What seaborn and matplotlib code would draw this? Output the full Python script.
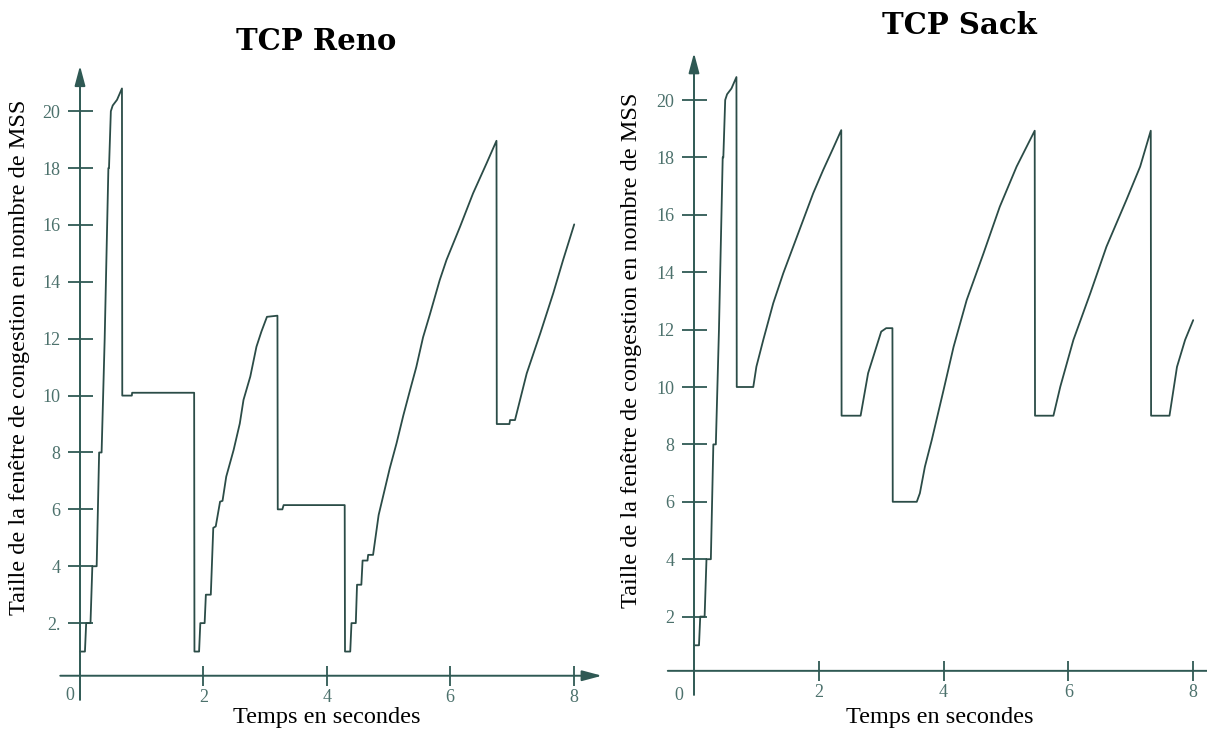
import numpy as np
import pandas as pd
import matplotlib
matplotlib.use("Agg")
import matplotlib.pyplot as plt
import matplotlib.transforms as mtransforms
import seaborn as sns

# --- congestion window traces (time in s, window in MSS) ---
reno_t = [0.00, 0.08, 0.10, 0.17, 0.20, 0.27, 0.31, 0.35, 0.40, 0.44, 0.46, 0.47,
          0.50, 0.53, 0.60, 0.68, 0.685, 0.84, 0.845, 1.85, 1.855, 1.93, 1.95, 2.02,
          2.04, 2.12, 2.16, 2.20, 2.27, 2.31, 2.37, 2.49, 2.59, 2.65, 2.76, 2.86,
          2.94, 3.03, 3.20, 3.205, 3.28, 3.30, 4.29, 4.295, 4.38, 4.40, 4.47, 4.49,
          4.56, 4.58, 4.66, 4.67, 4.75, 4.84, 4.93, 5.02, 5.13, 5.24, 5.35, 5.45,
          5.56, 5.67, 5.83, 5.94, 6.16, 6.37, 6.59, 6.75, 6.755, 6.96, 6.97, 7.05,
          7.24, 7.46, 7.67, 7.83, 8.01]
reno_w = [1.0, 1.0, 2.0, 2.0, 4.0, 4.0, 8.0, 8.0, 12.0, 16.0, 18.0, 18.0,
          20.0, 20.2, 20.4, 20.8, 10.0, 10.0, 10.1, 10.1, 1.0, 1.0, 2.0, 2.0,
          3.0, 3.0, 5.35, 5.4, 6.27, 6.3, 7.15, 8.09, 9.02, 9.85, 10.67, 11.72,
          12.25, 12.77, 12.81, 6.0, 6.0, 6.15, 6.15, 1.0, 1.0, 2.0, 2.0, 3.35,
          3.35, 4.2, 4.2, 4.4, 4.4, 5.8, 6.62, 7.44, 8.32, 9.3, 10.2, 11.0,
          12.05, 12.85, 14.06, 14.77, 15.94, 17.11, 18.17, 18.96, 9.0, 9.0, 9.14, 9.14,
          10.78, 12.19, 13.6, 14.77, 16.02]

sack_t = [0.00, 0.08, 0.10, 0.17, 0.20, 0.27, 0.31, 0.35, 0.40, 0.44, 0.46, 0.47,
          0.50, 0.53, 0.60, 0.68, 0.685, 0.95, 1.00, 1.11, 1.27, 1.43, 1.59, 1.75,
          1.91, 2.07, 2.23, 2.36, 2.365, 2.67, 2.79, 3.00, 3.08, 3.18, 3.185, 3.57,
          3.62, 3.70, 3.81, 4.00, 4.16, 4.37, 4.64, 4.90, 5.17, 5.46, 5.465, 5.76,
          5.87, 6.08, 6.35, 6.61, 6.93, 7.15, 7.32, 7.325, 7.62, 7.74, 7.87, 8.00]
sack_w = [1.0, 1.0, 2.0, 2.0, 4.0, 4.0, 8.0, 8.0, 12.0, 16.0, 18.0, 18.0,
          20.0, 20.2, 20.4, 20.8, 10.0, 10.0, 10.71, 11.64, 12.92, 13.96, 14.89, 15.82,
          16.75, 17.56, 18.32, 18.95, 9.0, 9.0, 10.48, 11.93, 12.05, 12.05, 6.0, 6.0,
          6.3, 7.22, 8.15, 9.9, 11.4, 13.03, 14.66, 16.28, 17.68, 18.93, 9.0, 9.0,
          10.01, 11.64, 13.26, 14.89, 16.52, 17.68, 18.93, 9.0, 9.0, 10.7, 11.64, 12.33]

# --- tick values and labels ---
x_ticks = [2, 4, 6, 8]
x_tick_labels = ["2", "4", "6", "8"]
y_ticks = [2, 4, 6, 8, 10, 12, 14, 16, 18, 20]
reno_y_labels = ["2.", "4", "6", "8", "10", "12", "14", "16", "18", "20"]
sack_y_labels = ["2", "4", "6", "8", "10", "12", "14", "16", "18", "20"]

titles = ["TCP Reno", "TCP Sack"]
x_label = "Temps en secondes"
y_label = "Taille de la fenêtre de congestion en nombre de MSS"

sns.set_theme(style="white")
plt.rcParams["font.family"] = ["Liberation Serif", "DejaVu Serif"]

LINE_C = "#2b4c47"
AXIS_C = "#2f5954"
TICK_C = "#4c716c"
TICK_FS = 13

W, H = 1207, 730
fig = plt.figure(figsize=(W / 100, H / 100), dpi=100)


def px_axes(x0_px, sx, y0_px, sy, xlim, ylim):
    left = x0_px + xlim[0] * sx
    width = (xlim[1] - xlim[0]) * sx
    bottom = y0_px - ylim[0] * sy
    height = (ylim[1] - ylim[0]) * sy
    ax = fig.add_axes([left / W, 1 - bottom / H, width / W, height / H])
    ax.set_xlim(*xlim)
    ax.set_ylim(*ylim)
    return ax


ARROW = "-|>,head_length=0.6,head_width=0.16"


def draw_panel(ax, t, w, ylabels, xaxis_y, xaxis_span, yaxis_span, x_arrow,
               zero_off):
    df = pd.DataFrame({"t": t, "w": w})
    sns.lineplot(data=df, x="t", y="w", ax=ax, color=LINE_C, lw=1.3,
                 sort=False, estimator=None)
    ax.set_xlabel("")
    ax.set_ylabel("")
    ax.patch.set_alpha(0)
    for s in ax.spines.values():
        s.set_visible(False)
    ax.spines["left"].set_position(("data", 0))
    ax.spines["bottom"].set_position(("data", xaxis_y))
    ax.set_xticks(x_ticks, x_tick_labels)
    ax.set_yticks(y_ticks, ylabels)
    ax.tick_params(axis="y", direction="inout", length=18, width=1.3,
                   color=AXIS_C, labelcolor=TICK_C, labelsize=TICK_FS, pad=5,
                   left=True)
    ax.tick_params(axis="x", direction="inout", length=15, width=1.3,
                   color=AXIS_C, labelcolor=TICK_C, labelsize=TICK_FS, pad=2,
                   bottom=True)
    ax.grid(False)
    # axis lines with arrow heads
    ax.annotate("", xy=(0, yaxis_span[1]), xytext=(0, yaxis_span[0]),
                arrowprops=dict(arrowstyle=ARROW, color=AXIS_C, lw=1.4,
                                shrinkA=0, shrinkB=0, mutation_scale=20),
                annotation_clip=False)
    style = ARROW if x_arrow else "-"
    ax.annotate("", xy=(xaxis_span[1], xaxis_y), xytext=(xaxis_span[0], xaxis_y),
                arrowprops=dict(arrowstyle=style, color=AXIS_C, lw=1.4,
                                shrinkA=0, shrinkB=0, mutation_scale=20),
                annotation_clip=False)
    tr = mtransforms.offset_copy(ax.transData, fig=fig, x=zero_off[0],
                                 y=zero_off[1], units="dots")
    ax.text(0, 0, "0", transform=tr, ha="center", va="center",
            color=TICK_C, fontsize=TICK_FS)


# left panel: origin at (80, 680) px, 61.7 px/s, 28.44 px/MSS
ax1 = px_axes(80, 61.7, 680, 28.44, (-0.5, 8.6), (-1.0, 22.0))
draw_panel(ax1, reno_t, reno_w, reno_y_labels, 0.15, (-0.32, 8.46),
           (-0.7, 21.6), True, (-10, -15))

# right panel: origin at (694, 674) px, 62.4 px/s, 28.7 px/MSS
ax2 = px_axes(694, 62.4, 674, 28.7, (-0.5, 8.25), (-1.0, 22.0))
draw_panel(ax2, sack_t, sack_w, sack_y_labels, 0.11, (-0.42, 8.3),
           (-0.73, 21.64), False, (-15, -21))

text_kw = dict(ha="center", va="center", color="black", fontsize=17.5)
fig.text(327 / W, 1 - 718 / H, x_label, **text_kw)
fig.text(940 / W, 1 - 718 / H, x_label, **text_kw)
fig.text(20 / W, 1 - 357 / H, y_label, rotation=90, **text_kw)
fig.text(632 / W, 1 - 350 / H, y_label, rotation=90, **text_kw)

title_kw = dict(ha="center", va="center", color="black", fontsize=21,
                fontweight="bold", family=["DejaVu Serif"])
fig.text(316 / W, 1 - 42 / H, titles[0], **title_kw)
fig.text(959 / W, 1 - 25 / H, titles[1], **title_kw)

fig.savefig("out.png", dpi=100)
